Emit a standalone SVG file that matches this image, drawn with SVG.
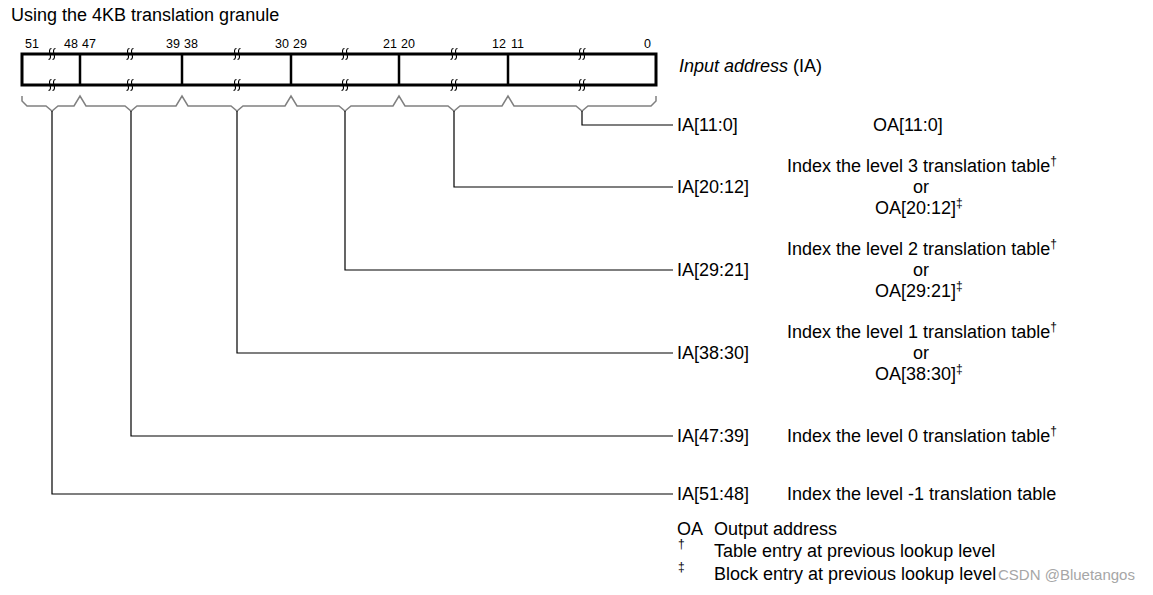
<svg xmlns="http://www.w3.org/2000/svg" width="1153" height="595" viewBox="0 0 1153 595">
<style>
text{font-family:"Liberation Sans",Arial,sans-serif;fill:#000;font-size:18px}
.num{font-size:12.5px}
.sup{font-size:12px}
.brk{fill:none;stroke:#000;stroke-width:1.1}
.box{fill:#fff;stroke:#000;stroke-width:3}
.div{stroke:#000;stroke-width:2.5}
.brace{fill:none;stroke:#808080;stroke-width:1.5;stroke-linejoin:miter}
.stem{fill:none;stroke:#000;stroke-width:1.2}
.wm{font-size:15px;fill:#a6a6a6}
</style>
<defs>
<path id="sq" class="brk" d="M1.5,-5.5 C-0.8,-5.5 -0.8,-2.5 0,0 S0.8,5.5 -1.5,5.5"/>
<g id="brk"><use href="#sq" x="-2"/><use href="#sq" x="2"/></g>
</defs>
<rect width="1153" height="595" fill="#fff"/>
<g id="title"><text x="11" y="21">Using the 4KB translation granule</text></g>

<g id="address-register">
<rect class="box" x="22" y="54" width="634" height="31"/>
<line class="div" x1="80" y1="54" x2="80" y2="85"/>
<line class="div" x1="182" y1="54" x2="182" y2="85"/>
<line class="div" x1="291" y1="54" x2="291" y2="85"/>
<line class="div" x1="399" y1="54" x2="399" y2="85"/>
<line class="div" x1="508" y1="54" x2="508" y2="85"/>
<use href="#brk" x="52" y="54"/><use href="#brk" x="52" y="85"/>
<use href="#brk" x="130" y="54"/><use href="#brk" x="130" y="85"/>
<use href="#brk" x="237" y="54"/><use href="#brk" x="237" y="85"/>
<use href="#brk" x="345" y="54"/><use href="#brk" x="345" y="85"/>
<use href="#brk" x="454" y="54"/><use href="#brk" x="454" y="85"/>
<use href="#brk" x="582" y="54"/><use href="#brk" x="582" y="85"/>
<text class="num" x="25" y="48">51</text>
<text class="num" x="78" y="48" text-anchor="end">48</text>
<text class="num" x="82" y="48">47</text>
<text class="num" x="180" y="48" text-anchor="end">39</text>
<text class="num" x="184" y="48">38</text>
<text class="num" x="289" y="48" text-anchor="end">30</text>
<text class="num" x="293" y="48">29</text>
<text class="num" x="397" y="48" text-anchor="end">21</text>
<text class="num" x="401" y="48">20</text>
<text class="num" x="506" y="48" text-anchor="end">12</text>
<text class="num" x="511" y="48">11</text>
<text class="num" x="651" y="48" text-anchor="end">0</text>
<text x="679" y="72"><tspan font-style="italic">Input address</tspan> (IA)</text>
</g>

<g id="connectors">
<path class="brace" d="M22,96 L22,101 L27,106 L46,106 L52,111 L58,106 L74,106 L80,96 L86,106 L125,106 L131,111 L137,106 L176,106 L182,96 L188,106 L231,106 L237,111 L243,106 L285,106 L291,96 L297,106 L339,106 L345,111 L351,106 L393,106 L399,96 L405,106 L448,106 L454,111 L460,106 L502,106 L508,96 L514,106 L576,106 L582,111 L588,106 L651,106 L656,101 L656,96"/>
<path class="stem" d="M582,111 V125 H673"/>
<path class="stem" d="M454,111 V187 H673"/>
<path class="stem" d="M345,111 V270 H673"/>
<path class="stem" d="M237,111 V353 H673"/>
<path class="stem" d="M131,111 V436 H673"/>
<path class="stem" d="M52,111 V494 H673"/>
</g>

<g id="row-ia-11-0">
<text x="677" y="131">IA[11:0]</text>
<text x="873" y="131">OA[11:0]</text>
</g>
<g id="row-ia-20-12">
<text x="677" y="193">IA[20:12]</text>
<text x="787" y="172">Index the level 3 translation table<tspan class="sup" dy="-7">†</tspan></text>
<text x="921" y="193" text-anchor="middle">or</text>
<text x="875" y="214">OA[20:12]<tspan class="sup" dy="-7">‡</tspan></text>
</g>
<g id="row-ia-29-21">
<text x="677" y="276">IA[29:21]</text>
<text x="787" y="255">Index the level 2 translation table<tspan class="sup" dy="-7">†</tspan></text>
<text x="921" y="276" text-anchor="middle">or</text>
<text x="875" y="297">OA[29:21]<tspan class="sup" dy="-7">‡</tspan></text>
</g>
<g id="row-ia-38-30">
<text x="677" y="359">IA[38:30]</text>
<text x="787" y="338">Index the level 1 translation table<tspan class="sup" dy="-7">†</tspan></text>
<text x="921" y="359" text-anchor="middle">or</text>
<text x="875" y="380">OA[38:30]<tspan class="sup" dy="-7">‡</tspan></text>
</g>
<g id="row-ia-47-39">
<text x="677" y="442">IA[47:39]</text>
<text x="787" y="442">Index the level 0 translation table<tspan class="sup" dy="-7">†</tspan></text>
</g>
<g id="row-ia-51-48">
<text x="677" y="500">IA[51:48]</text>
<text x="787" y="500">Index the level -1 translation table</text>
</g>

<g id="legend">
<text x="677" y="535">OA</text>
<text x="714" y="535">Output address</text>
<text class="sup" x="678" y="548">†</text>
<text x="714" y="557">Table entry at previous lookup level</text>
<text class="sup" x="678" y="571">‡</text>
<text x="714" y="580">Block entry at previous lookup level</text>
<text class="wm" x="998" y="580">CSDN @Bluetangos</text>
</g>
</svg>
